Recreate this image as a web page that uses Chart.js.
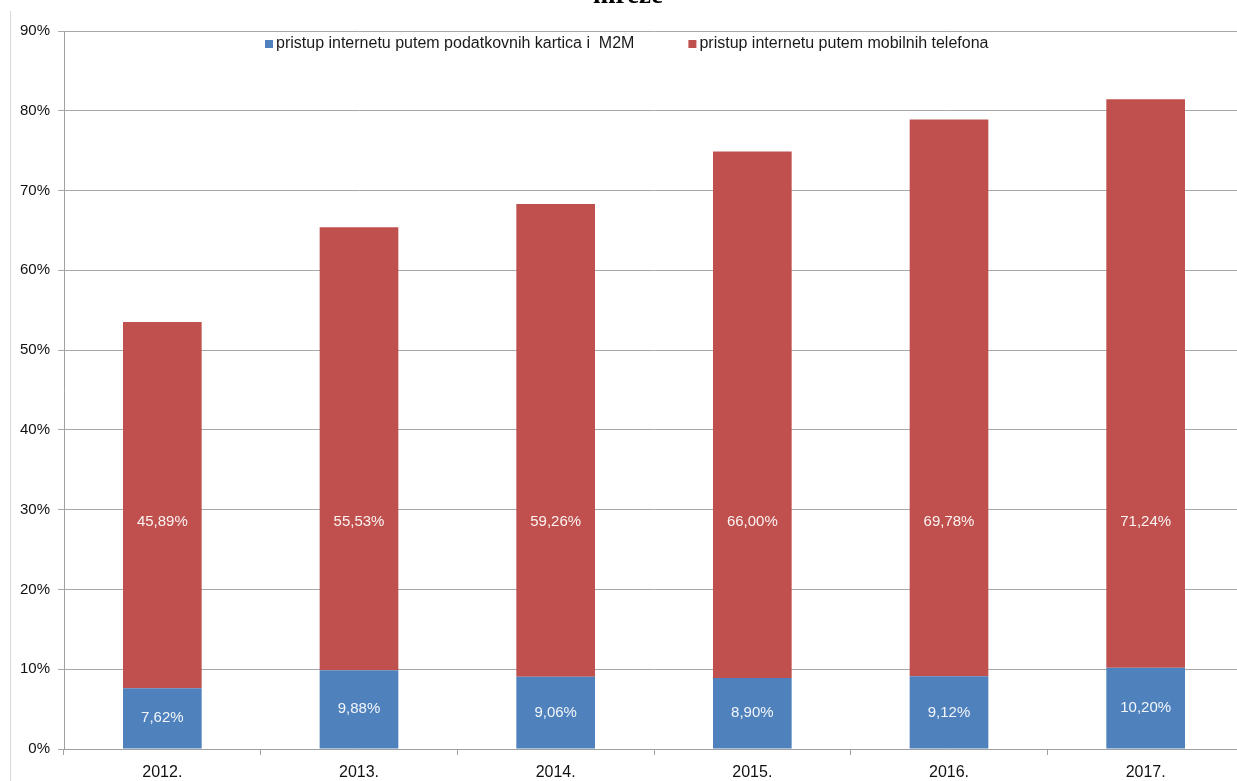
<!DOCTYPE html>
<html>
<head>
<meta charset="utf-8">
<script src="https://cdn.jsdelivr.net/npm/chart.js@4.4.0/dist/chart.umd.min.js"></script>
<style>
    html, body { margin: 0; padding: 0; background: #fff; overflow: hidden; }
    #wrap { position: relative; width: 1245px; height: 781px; }
    #edge { position: absolute; left: 10px; top: 11px; bottom: 0; width: 1px; background: #d9d9d9; }
</style>
</head>
<body>
<div id="wrap">
    <div id="edge"></div>
    <canvas id="chart"></canvas>
</div>
<script>
// Données du graphique
const years = ['2012.', '2013.', '2014.', '2015.', '2016.', '2017.'];
const m2mShare = [7.62, 9.88, 9.06, 8.90, 9.12, 10.20];
const mobileShare = [45.89, 55.53, 59.26, 66.00, 69.78, 71.24];
const seriesNames = [
    'pristup internetu putem podatkovnih kartica i  M2M',
    'pristup internetu putem mobilnih telefona'
];
const seriesColors = ['#4F81BD', '#C0504D'];
const yMax = 90;
const yStep = 10;

const FONT = '"Liberation Sans", Arial, sans-serif';

function formatPct(v) {
    return v.toFixed(2).replace('.', ',') + '%';
}

// Titre coupé en haut de l'image
const cutTitle = {
    id: 'cutTitle',
    afterDraw(chart) {
        const ctx = chart.ctx;
        ctx.save();
        ctx.font = 'bold 27px "Liberation Serif", serif';
        ctx.fillStyle = '#000';
        ctx.textAlign = 'center';
        ctx.textBaseline = 'alphabetic';
        ctx.fillText('mreže', 628, 3);
        ctx.restore();
    }
};

// Étiquettes des valeurs dans les barres
const segmentLabels = {
    id: 'segmentLabels',
    afterDatasetsDraw(chart, args, opts) {
        const ctx = chart.ctx;
        const yScale = chart.scales.y;
        ctx.save();
        ctx.font = '15px ' + FONT;
        ctx.fillStyle = 'rgba(255,255,255,0.93)';
        ctx.textAlign = 'center';
        ctx.textBaseline = 'middle';
        chart.data.datasets.forEach((ds, di) => {
            const meta = chart.getDatasetMeta(di);
            meta.data.forEach((bar, i) => {
                let y;
                if (di === 0) {
                    y = (bar.y + bar.base) / 2;
                } else {
                    y = yScale.getPixelForValue(opts.fixedLevel);
                }
                ctx.fillText(formatPct(ds.data[i]), bar.x, y);
            });
        });
        ctx.restore();
    }
};

// Légende à l'intérieur de la zone du graphique
const inlineLegend = {
    id: 'inlineLegend',
    afterDraw(chart, args, opts) {
        const ctx = chart.ctx;
        ctx.save();
        ctx.font = '16px ' + FONT;
        ctx.textBaseline = 'middle';
        let x = opts.startX;
        const y = opts.y;
        chart.data.datasets.forEach(ds => {
            ctx.fillStyle = ds.backgroundColor;
            ctx.fillRect(x, y - 4, 8, 8);
            ctx.fillStyle = '#1a1a1a';
            ctx.fillText(ds.label, x + 11, y);
            x += 11 + ctx.measureText(ds.label).width + opts.gap;
        });
        ctx.restore();
    }
};

new Chart(document.getElementById('chart'), {
    type: 'bar',
    data: {
        labels: years,
        datasets: [
            {
                label: seriesNames[0],
                data: m2mShare,
                backgroundColor: seriesColors[0],
                barPercentage: 0.4,
                categoryPercentage: 1
            },
            {
                label: seriesNames[1],
                data: mobileShare,
                backgroundColor: seriesColors[1],
                barPercentage: 0.4,
                categoryPercentage: 1
            }
        ]
    },
    options: {
        responsive: true,
        maintainAspectRatio: false,
        animation: false,
        layout: {
            padding: { top: 31, right: 1, bottom: 0, left: 0 }
        },
        plugins: {
            legend: { display: false },
            tooltip: { enabled: false },
            segmentLabels: { fixedLevel: 28.5 },
            inlineLegend: { startX: 265, y: 44, gap: 54 }
        },
        scales: {
            x: {
                stacked: true,
                afterFit(scale) { scale.height = 32; },
                grid: {
                    offset: true,
                    drawOnChartArea: false,
                    drawTicks: true,
                    tickLength: 6,
                    color: '#a0a0a0'
                },
                border: { color: '#a0a0a0' },
                ticks: {
                    padding: 8,
                    color: '#111',
                    font: { family: FONT, size: 16 }
                }
            },
            y: {
                stacked: true,
                min: 0,
                max: yMax,
                afterFit(scale) { scale.width = 64; },
                grid: {
                    color: '#a8a8a8',
                    drawTicks: true,
                    tickLength: 6
                },
                border: { color: '#a0a0a0' },
                ticks: {
                    stepSize: yStep,
                    padding: 8,
                    color: '#111',
                    font: { family: FONT, size: 15 },
                    callback: v => v + '%'
                }
            }
        }
    },
    plugins: [cutTitle, segmentLabels, inlineLegend]
});
</script>
</body>
</html>
